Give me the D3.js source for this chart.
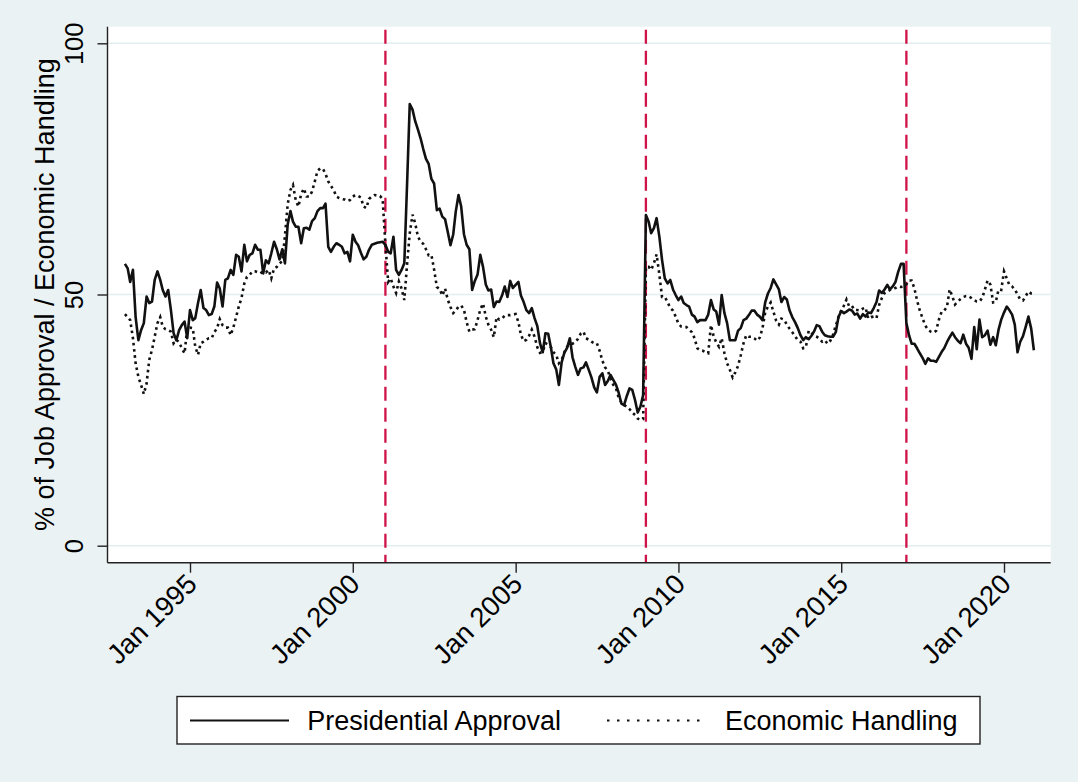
<!DOCTYPE html>
<html>
<head>
<meta charset="utf-8">
<script src="https://cdn.jsdelivr.net/npm/d3@7"></script>
<style>
  html, body { margin: 0; padding: 0; background: #eaf2f3; }
  svg { display: block; font-family: "Liberation Sans", Arial, sans-serif; }
</style>
</head>
<body>
<div id="chart"></div>
<script>
// monthly series, Jan 1993 - Dec 2020
const firstMonth = '1993-01'

const approval = [
  56.1, 55.2, 52.5, 54.9, 45.5, 40.9, 42.9, 44.3, 49.6, 48.3, 48.6, 52.9,
  54.6, 52.9, 50.9, 49.6, 50.9, 46.9, 42.3, 40.9, 42.9, 43.9, 44.6, 41.3,
  46.9, 44.9, 45.3, 48.3, 50.9, 47.3, 46.9, 45.9, 46.1, 47.6, 52.4, 51.2,
  47.6, 52.9, 53.2, 54.9, 53.9, 57.9, 57.5, 54.6, 59.9, 56.6, 57.9, 58.2,
  59.9, 58.9, 58.9, 54.2, 56.8, 56.2, 58.2, 60.5, 59.0, 57.0, 59.0, 56.2,
  64.0, 66.6, 64.5, 63.5, 63.5, 60.2, 63.2, 63.3, 62.9, 64.6, 65.2, 66.6,
  67.2, 67.2, 68.1, 59.5, 58.5, 59.5, 60.2, 59.9, 59.5, 58.2, 58.5, 56.6,
  61.9, 60.5, 59.8, 58.3, 57.0, 57.5, 58.9, 59.9, 60.1, 60.3, 60.4, 60.5,
  59.9, 58.5, 58.2, 61.5, 54.9, 53.9, 54.9, 56.2, 72.0, 87.9, 86.8, 84.5,
  82.8, 81.0, 79.0, 77.0, 76.0, 73.0, 72.1, 66.8, 67.1, 65.5, 65.0, 62.5,
  59.8, 62.0, 66.5, 69.8, 67.5, 62.0, 59.9, 59.0, 50.9, 52.7, 54.0, 57.9,
  55.5, 52.0, 50.8, 51.0, 47.5, 48.6, 48.5, 49.8, 51.6, 49.5, 52.7, 51.3,
  51.9, 52.5, 49.8, 48.5, 46.9, 46.3, 47.3, 45.3, 43.7, 40.3, 38.5, 42.3,
  42.2, 39.4, 36.3, 35.1, 32.0, 36.5, 38.4, 39.4, 41.3, 37.5, 35.6, 34.0,
  35.3, 35.5, 36.5, 35.0, 33.5, 31.5, 30.5, 33.6, 34.3, 32.0, 32.8, 34.0,
  33.0, 32.0, 30.5, 28.3, 28.0, 29.8, 31.3, 31.0, 29.0, 26.5, 27.7, 30.0,
  65.8, 64.5, 62.2, 63.2, 65.2, 61.5, 56.9, 53.2, 52.2, 52.9, 51.0, 49.9,
  48.9, 49.6, 48.3, 47.9, 47.6, 46.0, 45.6, 44.5, 44.9, 44.9, 44.9, 46.0,
  48.9, 47.0, 46.6, 44.0, 49.9, 46.3, 44.3, 40.9, 40.9, 40.9, 42.8, 43.3,
  44.9, 45.2, 45.9, 46.8, 46.8, 46.0, 45.6, 44.9, 48.5, 50.2, 51.3, 53.0,
  52.0, 51.0, 48.5, 49.5, 49.0, 46.8, 45.5, 44.5, 43.3, 41.9, 40.9, 41.5,
  41.1, 41.8, 42.6, 43.9, 43.7, 42.6, 41.9, 41.7, 41.6, 41.6, 42.5, 45.5,
  46.7, 46.3, 46.6, 47.0, 46.8, 46.0, 46.2, 45.2, 46.1, 45.6, 46.4, 46.3,
  47.3, 48.5, 50.8, 50.3, 51.0, 51.9, 51.0, 51.6, 52.5, 54.5, 56.1, 56.1,
  44.3, 41.8, 40.2, 40.2, 39.3, 38.3, 37.4, 36.2, 37.3, 36.8, 36.8, 36.6,
  37.6, 38.6, 39.3, 40.5, 41.5, 42.4, 41.5, 40.8, 40.3, 42.0, 40.2, 39.4,
  37.2, 43.5, 39.1, 45.0, 41.5, 41.9, 42.8, 40.0, 41.5, 39.9, 43.0, 45.0,
  46.4, 47.6, 46.9, 46.0, 44.0, 38.5, 40.6, 41.7, 43.6, 45.6, 43.2, 38.9
]

const economy = [
  46.1, 45.5, 44.9, 41.3, 36.3, 33.6, 32.0, 30.2, 32.3, 37.0, 39.0, 41.6,
  44.3, 45.5, 43.6, 43.1, 42.9, 42.6, 40.3, 41.0, 40.5, 39.3, 38.3, 43.3,
  43.4, 43.3, 39.6, 38.0, 40.3, 40.6, 41.0, 41.3, 41.3, 42.5, 43.3, 45.1,
  43.9, 43.4, 43.4, 41.9, 43.4, 45.5, 47.6, 49.3, 52.2, 53.5, 53.9, 54.6,
  54.6, 54.4, 54.2, 54.6, 54.4, 54.9, 53.2, 55.2, 55.5, 56.2, 56.6, 61.6,
  68.0, 70.8, 71.8, 68.8, 67.5, 70.0, 71.1, 69.5, 69.5, 70.5, 72.5, 74.6,
  75.1, 75.0, 74.0, 72.5, 71.6, 70.8, 69.5, 69.2, 69.0, 68.9, 68.6, 68.8,
  69.5, 69.8, 69.6, 69.3, 67.5, 67.2, 69.0, 69.5, 69.8, 69.7, 69.6, 69.0,
  60.0, 52.5, 53.2, 51.6, 50.3, 52.6, 51.2, 48.9, 56.0, 62.2, 65.9, 64.2,
  61.5, 60.5, 60.1, 59.0, 57.8, 57.9, 55.0, 51.5, 51.1, 49.8, 51.2, 49.0,
  47.5, 46.3, 46.8, 47.6, 47.8, 47.0, 44.5, 42.6, 43.0, 43.1, 44.9, 47.0,
  48.2, 45.6, 44.0, 43.0, 41.5, 45.5, 45.0, 45.2, 45.8, 45.9, 45.9, 46.0,
  46.1, 44.5, 42.0, 40.7, 41.0, 41.8, 43.0, 41.6, 39.5, 38.4, 38.6, 40.3,
  40.0, 39.5, 38.5, 38.0, 36.3, 37.0, 38.5, 39.6, 40.0, 40.2, 40.5, 41.2,
  42.2, 42.6, 41.3, 41.0, 40.6, 40.3, 40.3, 38.8, 36.8, 35.5, 34.8, 33.3,
  32.0, 31.3, 29.5, 28.5, 28.0, 27.7, 27.2, 26.5, 26.0, 25.3, 25.0, 25.2,
  55.5, 55.5, 54.9, 56.2, 58.0, 54.0, 49.5, 49.5, 48.5, 47.3, 46.8, 45.6,
  44.2, 43.6, 43.5, 43.5, 43.0, 42.5, 41.3, 39.3, 38.9, 38.8, 38.5, 38.3,
  43.9, 41.6, 40.5, 39.6, 41.3, 38.3, 36.3, 35.0, 33.5, 34.5, 35.8, 37.9,
  40.3, 41.9, 41.6, 41.6, 41.3, 40.8, 41.4, 43.3, 46.5, 47.6, 48.4, 46.6,
  44.8, 44.0, 45.2, 45.0, 44.0, 43.2, 42.5, 41.7, 40.9, 40.6, 39.3, 39.5,
  42.8, 42.4, 41.8, 41.6, 41.2, 40.6, 40.9, 40.2, 40.8, 42.0, 43.8, 45.5,
  46.8, 47.8, 49.0, 47.6, 47.7, 46.9, 46.9, 46.8, 47.2, 47.4, 45.2, 45.5,
  45.6, 45.3, 47.9, 49.3, 50.3, 50.6, 50.9, 51.2, 51.3, 51.6, 51.5, 51.6,
  52.0, 52.8, 52.8, 51.2, 48.8, 46.8, 45.3, 43.8, 43.0, 42.6, 42.4, 42.8,
  45.0, 46.6, 46.8, 47.5, 51.0, 49.6, 48.0, 48.6, 49.1, 49.5, 49.7, 49.6,
  49.3, 48.9, 48.6, 48.6, 49.3, 51.0, 52.8, 52.0, 48.4, 48.5, 51.0, 50.9,
  54.6, 53.2, 51.9, 51.6, 51.0, 50.0, 49.0, 48.8, 49.7, 50.6, 50.2, 50.1
]

// presidential transitions
const transitions = ['2001-01', '2009-01', '2017-01']
const tickYears = [1995, 2000, 2005, 2010, 2015, 2020]
const yTicks = [0, 50, 100]
const seriesNames = ['Presidential Approval', 'Economic Handling']

const W = 1078, H = 782
const plot = { left: 107.5, right: 1050.7, top: 26.7, bottom: 562.7 }

const parseMonth = d3.timeParse('%Y-%m')
const start = parseMonth(firstMonth)
const months = d3.timeMonth.range(start, d3.timeMonth.offset(start, approval.length))

const svg = d3.select('#chart')
  .append('svg')
  .attr('width', W)
  .attr('height', H)

svg.append('rect')
  .attr('width', W)
  .attr('height', H)
  .attr('fill', '#eaf2f3')

svg.append('rect')
  .attr('x', plot.left)
  .attr('y', plot.top)
  .attr('width', plot.right - plot.left)
  .attr('height', plot.bottom - plot.top)
  .attr('fill', '#ffffff')

// x scale: Jan 1995 and Jan 2020 sit at fixed places, extend out to the plot edges
const xRef = d3.scaleTime()
  .domain([new Date(1995, 0, 1), new Date(2020, 0, 1)])
  .range([190, 1004])
const x = d3.scaleTime()
  .domain([xRef.invert(plot.left), xRef.invert(plot.right)])
  .range([plot.left, plot.right])

const y = d3.scaleLinear()
  .domain([0, 100])
  .range([545.7, 43.3])

// gridlines
svg.append('g')
  .selectAll('line')
  .data(yTicks)
  .join('line')
  .attr('x1', plot.left)
  .attr('x2', plot.right)
  .attr('y1', d => y(d))
  .attr('y2', d => y(d))
  .attr('stroke', '#e4eef0')
  .attr('stroke-width', 1.4)

// transition lines
svg.append('g')
  .selectAll('line')
  .data(transitions.map(parseMonth))
  .join('line')
  .attr('x1', d => x(d))
  .attr('x2', d => x(d))
  .attr('y1', plot.top + 3)
  .attr('y2', plot.bottom)
  .attr('stroke', '#cf1248')
  .attr('stroke-width', 2.3)
  .attr('stroke-dasharray', '14,7')

const line = d3.line()
  .x((d, i) => x(months[i]))
  .y(d => y(d))

svg.append('path')
  .datum(economy)
  .attr('fill', 'none')
  .attr('stroke', '#111')
  .attr('stroke-width', 2.6)
  .attr('stroke-dasharray', '2.6,3.6')
  .attr('d', line)

svg.append('path')
  .datum(approval)
  .attr('fill', 'none')
  .attr('stroke', '#111')
  .attr('stroke-width', 2.6)
  .attr('stroke-linejoin', 'round')
  .attr('d', line)

// axes
const yAxis = svg.append('g')
  .attr('transform', 'translate(' + plot.left + ',0)')
  .call(d3.axisLeft(y).tickValues(yTicks).tickSize(10).tickFormat(d3.format('d')))
yAxis.select('.domain').remove()
yAxis.selectAll('.tick line').attr('stroke', '#222').attr('stroke-width', 1.4)
yAxis.selectAll('.tick text')
  .attr('transform', 'rotate(-90)')
  .attr('x', 0)
  .attr('y', -24.5)
  .attr('dy', 0)
  .style('text-anchor', 'middle')
  .style('font-size', '25.5px')
  .style('font-family', '"Liberation Sans", Arial, sans-serif')
  .attr('fill', '#000')

const xAxis = svg.append('g')
  .attr('transform', 'translate(0,' + plot.bottom + ')')
  .call(d3.axisBottom(x)
    .tickValues(tickYears.map(yr => new Date(yr, 0, 1)))
    .tickSize(10)
    .tickFormat(d3.timeFormat('Jan %Y')))
xAxis.select('.domain').remove()
xAxis.selectAll('.tick line').attr('stroke', '#222').attr('stroke-width', 1.4)
xAxis.selectAll('.tick text')
  .attr('x', 0)
  .attr('y', 0)
  .attr('dy', 0)
  .attr('transform', 'translate(8,23) rotate(-45)')
  .style('text-anchor', 'end')
  .style('font-size', '27.5px')
  .style('font-family', '"Liberation Sans", Arial, sans-serif')
  .attr('fill', '#000')

// axis lines
svg.append('line')
  .attr('x1', plot.left).attr('x2', plot.left)
  .attr('y1', plot.top).attr('y2', plot.bottom)
  .attr('stroke', '#222').attr('stroke-width', 1.4)
svg.append('line')
  .attr('x1', plot.left).attr('x2', plot.right)
  .attr('y1', plot.bottom).attr('y2', plot.bottom)
  .attr('stroke', '#222').attr('stroke-width', 1.4)

// y axis title
svg.append('text')
  .attr('transform', 'translate(54,' + ((plot.top + plot.bottom) / 2) + ') rotate(-90)')
  .style('text-anchor', 'middle')
  .style('font-size', '27px')
  .text('% of Job Approval / Economic Handling')

// legend
const legend = svg.append('g')
legend.append('rect')
  .attr('x', 177)
  .attr('y', 696.5)
  .attr('width', 803)
  .attr('height', 47.5)
  .attr('fill', '#fff')
  .attr('stroke', '#222')
  .attr('stroke-width', 1.4)

const legendItems = [
  { name: seriesNames[0], x1: 190, x2: 289, tx: 307.3, dash: null },
  { name: seriesNames[1], x1: 607, x2: 706, tx: 725, dash: '2.5,7.5' }
]
legendItems.forEach(d => {
  legend.append('line')
    .attr('x1', d.x1).attr('x2', d.x2)
    .attr('y1', 720.5).attr('y2', 720.5)
    .attr('stroke', '#111')
    .attr('stroke-width', 2)
    .attr('stroke-dasharray', d.dash)
  legend.append('text')
    .attr('x', d.tx)
    .attr('y', 730)
    .style('font-size', '27px')
    .text(d.name)
})
</script>
</body>
</html>
